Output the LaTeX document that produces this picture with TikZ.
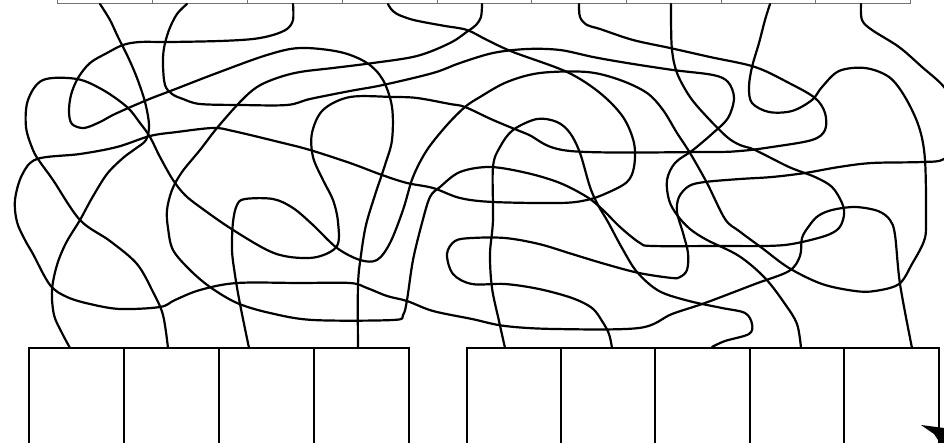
\documentclass[tikz,border=0pt]{standalone}
\begin{document}
\begin{tikzpicture}[x=1pt,y=-1pt]
\tikzset{
  wire/.style={line width=2.2pt, line join=round, line cap=round, black},
  boxline/.style={line width=1.4pt, black},
  topbox/.style={line width=1pt, black!55}
}
\path[use as bounding box] (0,0) rectangle (944,443);
\clip (0,0) rectangle (944,443);
\fill[white] (0,0) rectangle (944,443);
% top boxes
\draw[topbox] (57,-3) -- (57,4) -- (910,4) -- (910,-3);
\foreach \x in {152,247,342,437,531,626,721,815} \draw[topbox] (\x,-3) -- (\x,4);
% bottom boxes left
\draw[boxline] (29,450) -- (29,348) -- (409,348) -- (409,450);
\foreach \x in {124,219,314} \draw[boxline] (\x,348) -- (\x,450);
% bottom boxes right
\draw[boxline] (467,450) -- (467,348) -- (939,348) -- (939,450);
\foreach \x in {561,655,750,844} \draw[boxline] (\x,348) -- (\x,450);
% corner mark
\fill[black] (921,425) -- (944,428) -- (944,443) -- (940,443) -- (934,434) -- cycle;
% line A
\draw[wire] plot[smooth,tension=0.55] coordinates {(100,4) (110,20) (118,37) (128,57) (137,78) (145,102) (149,125) (146,140) (135,149) (123,158) (107,174) (92,198) (80,220) (66,243) (57,265) (52,290) (54,315) (62,333) (70,348)};
% line B
\draw[wire] plot[smooth,tension=0.55] coordinates {(187,4) (177,14) (169,30) (164,48) (163,65) (165,85) (172,94) (183,99) (200,104) (240,105) (287,105) (310,99) (350,91) (383,85) (433,73) (460,63) (493,53) (527,49) (560,50) (593,57) (627,63) (673,70) (713,75) (728,82) (734,98) (728,118) (713,133) (693,150) (675,163) (667,180) (669,200) (677,215) (690,229) (707,240) (739,256) (765,278) (785,304) (797,324) (801,348)};
% line C
\draw[wire] plot[smooth,tension=0.55] coordinates {(293,4) (293,20) (287,29) (273,35) (253,39) (220,41) (170,42) (140,42) (123,45) (107,53) (90,63) (78,78) (71,95) (69,112) (72,124) (84,128) (100,122) (115,114) (147,100) (173,90) (217,73) (267,55) (300,48) (340,52) (367,63) (383,80) (392,107) (392,140) (385,165) (375,195) (366,225) (361,255) (358,285) (358,348)};
% line D
\draw[wire] plot[smooth,tension=0.55] coordinates {(388,4) (391,9) (397,14) (410,19) (423,22) (445,26) (467,30) (487,40) (513,52) (567,72) (600,93) (623,117) (634,143) (634,167) (627,182) (607,193) (587,200) (560,203) (493,202) (460,198) (433,188) (407,183) (382,175) (350,163) (310,150) (283,143) (233,131) (213,128) (177,132) (150,136) (117,147) (80,154) (37,159) (22,175) (15,200) (17,222) (25,240) (33,254) (50,285) (67,297) (90,304) (120,309) (160,307) (175,300) (200,290) (237,283) (300,283) (350,283) (367,288) (387,296) (407,301) (433,311) (472,319) (505,326) (555,329) (639,328) (672,314) (705,303) (755,284) (789,271) (800,256) (802,238) (809,226) (818,216) (832,210) (855,207) (878,211) (890,220) (895,235) (900,284) (912,348)};
% line E-G
\draw[wire] plot[smooth,tension=0.55] coordinates {(482,4) (481,17) (476,25) (468,31) (450,43) (417,56) (373,63) (333,68) (300,72) (277,78) (257,87) (240,102) (217,128) (200,150) (182,172) (172,190) (167,210) (168,228) (173,250) (190,270) (210,287) (237,303) (270,313) (313,320) (393,320) (403,315) (407,300) (413,260) (422,223) (430,197) (440,187) (460,172) (490,167) (527,173) (560,183) (587,197) (603,210) (620,227) (640,243) (653,246) (720,246) (765,246) (792,244) (825,236) (839,228) (844,215) (842,203) (832,187) (815,177) (789,167) (755,150) (740,145) (727,137) (707,117) (690,97) (677,73) (672,50) (671,20) (671,4)};
% hump (bottom to bottom)
\draw[wire] plot[smooth,tension=0.55] coordinates {(505,348) (499,321) (492,288) (490,254) (493,220) (493,167) (500,147) (513,130) (537,119) (557,122) (570,133) (580,153) (590,187) (598,205) (608,222) (622,248) (637,272) (659,291) (689,301) (722,308) (745,313) (752,324) (749,334) (725,341) (712,347)};
% line F
\draw[wire] plot[smooth,tension=0.55] coordinates {(579,4) (580,17) (587,25) (600,29) (633,40) (670,48) (710,57) (755,67) (789,83) (815,98) (825,113) (825,130) (812,140) (772,147) (740,151) (705,152) (570,151) (527,134) (493,120) (465,107) (450,104) (417,98) (393,97) (350,97) (323,110) (312,133) (313,157) (323,180) (333,200) (338,222) (337,246) (317,257) (290,257) (267,250) (230,228) (200,207) (185,195) (173,180) (160,157) (150,137) (140,123) (127,107) (103,90) (77,79) (43,80) (28,100) (26,127) (33,150) (40,162) (53,180) (80,220) (110,241) (137,264) (153,292) (163,315) (168,348)};
% line H
\draw[wire] plot[smooth,tension=0.55] coordinates {(770,4) (765,20) (759,43) (752,67) (749,87) (752,103) (769,112) (792,111) (812,100) (822,87) (839,71) (865,68) (889,77) (905,97) (919,127) (925,160) (926,222) (924,241) (912,264) (899,284) (875,291) (855,291) (822,284) (789,268) (762,248) (739,231) (725,219) (707,183) (690,153) (677,133) (663,110) (647,93) (620,80) (587,72) (540,73) (507,82) (480,97) (465,107) (447,125) (427,150) (413,177) (403,210) (390,243) (377,260) (360,260) (337,248) (313,225) (293,208) (273,199) (245,199) (237,205) (233,222) (232,250) (235,275) (240,304) (249,348)};
% line I
\draw[wire] plot[smooth,tension=0.55] coordinates {(861,4) (862,20) (872,30) (899,47) (922,67) (944,87) (956,110) (956,140) (944,159) (922,162) (872,163) (839,167) (805,173) (772,177) (740,179) (705,182) (689,186) (679,197) (677,212) (683,233) (688,253) (687,270) (680,277) (672,278) (639,273) (605,264) (572,254) (539,244) (505,238) (472,238) (455,241) (447,254) (453,274) (472,284) (505,284) (539,289) (572,298) (592,308) (602,321) (609,334) (612,348)};
\end{tikzpicture}
\end{document}
